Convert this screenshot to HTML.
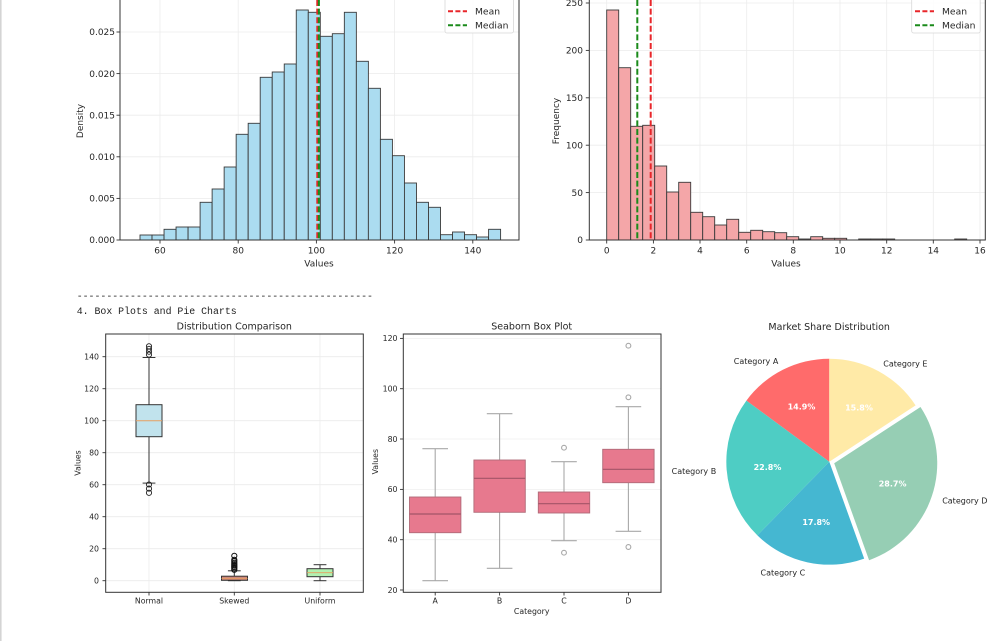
<!DOCTYPE html>
<html><head><meta charset="utf-8"><style>
html,body{margin:0;padding:0;background:#fff;}
svg{display:block;}
text{font-family:"DejaVu Sans","Liberation Sans",sans-serif;fill:#262626;}
text.pct{fill:#ffffff;font-weight:bold;}
.mono{font-family:"Liberation Mono","DejaVu Sans Mono",monospace;fill:#222;}
</style></head><body>
<svg width="1000" height="641" viewBox="0 0 1000 641" xmlns="http://www.w3.org/2000/svg">
<rect x="0" y="0" width="1000" height="641" fill="#fff"/>
<rect x="0" y="0" width="1.6" height="641" fill="#d4d4d4"/>

<!-- ============ TOP LEFT HISTOGRAM ============ -->
<g stroke="#ececec" stroke-width="0.8">
<line x1="160" y1="0" x2="160" y2="240"/><line x1="238.2" y1="0" x2="238.2" y2="240"/><line x1="316.4" y1="0" x2="316.4" y2="240"/><line x1="394.6" y1="0" x2="394.6" y2="240"/><line x1="472.8" y1="0" x2="472.8" y2="240"/>
<line x1="120" y1="198.4" x2="519" y2="198.4"/><line x1="120" y1="156.8" x2="519" y2="156.8"/><line x1="120" y1="115.2" x2="519" y2="115.2"/><line x1="120" y1="73.6" x2="519" y2="73.6"/><line x1="120" y1="32" x2="519" y2="32"/>
</g>
<g fill="#abdcf0" stroke="#3a3a3a" stroke-width="0.9">
<rect x="140" y="235" width="12.02" height="5"/>
<rect x="152.02" y="235" width="12.02" height="5"/>
<rect x="164.04" y="229.3" width="12.02" height="10.7"/>
<rect x="176.06" y="227" width="12.02" height="13"/>
<rect x="188.08" y="227" width="12.02" height="13"/>
<rect x="200.1" y="202.3" width="12.02" height="37.7"/>
<rect x="212.12" y="189" width="12.02" height="51"/>
<rect x="224.14" y="167" width="12.02" height="73"/>
<rect x="236.16" y="134.3" width="12.02" height="105.7"/>
<rect x="248.18" y="123.3" width="12.02" height="116.7"/>
<rect x="260.2" y="77.3" width="12.02" height="162.7"/>
<rect x="272.22" y="72" width="12.02" height="168"/>
<rect x="284.24" y="64" width="12.02" height="176"/>
<rect x="296.26" y="10" width="12.02" height="230"/>
<rect x="308.28" y="12.3" width="12.02" height="227.7"/>
<rect x="320.3" y="36.3" width="12.02" height="203.7"/>
<rect x="332.32" y="33.7" width="12.02" height="206.3"/>
<rect x="344.34" y="12.3" width="12.02" height="227.7"/>
<rect x="356.36" y="61.3" width="12.02" height="178.7"/>
<rect x="368.38" y="88.3" width="12.02" height="151.7"/>
<rect x="380.4" y="139.3" width="12.02" height="100.7"/>
<rect x="392.42" y="155.7" width="12.02" height="84.3"/>
<rect x="404.44" y="183" width="12.02" height="57"/>
<rect x="416.46" y="202.3" width="12.02" height="37.7"/>
<rect x="428.48" y="207.3" width="12.02" height="32.7"/>
<rect x="440.5" y="234.7" width="12.02" height="5.3"/>
<rect x="452.52" y="232" width="12.02" height="8"/>
<rect x="464.54" y="234.7" width="12.02" height="5.3"/>
<rect x="476.56" y="237" width="12.02" height="3"/>
<rect x="488.58" y="229.3" width="12.02" height="10.7"/>
</g>
<line x1="317.3" y1="0" x2="317.3" y2="240" stroke="#e8262a" stroke-width="2" stroke-dasharray="6,2.6"/>
<line x1="318.9" y1="0" x2="318.9" y2="240" stroke="#1a8a1a" stroke-width="2" stroke-dasharray="6,2.6"/>
<g stroke="#333" stroke-width="1" fill="none">
<line x1="120" y1="0" x2="120" y2="240.5"/><line x1="519" y1="0" x2="519" y2="240.5"/><line x1="120" y1="240" x2="519" y2="240"/>
</g>
<g stroke="#333" stroke-width="0.9">
<line x1="116.5" y1="240" x2="120" y2="240"/><line x1="116.5" y1="198.4" x2="120" y2="198.4"/><line x1="116.5" y1="156.8" x2="120" y2="156.8"/><line x1="116.5" y1="115.2" x2="120" y2="115.2"/><line x1="116.5" y1="73.6" x2="120" y2="73.6"/><line x1="116.5" y1="32" x2="120" y2="32"/>
<line x1="160" y1="240" x2="160" y2="243.5"/><line x1="238.2" y1="240" x2="238.2" y2="243.5"/><line x1="316.4" y1="240" x2="316.4" y2="243.5"/><line x1="394.6" y1="240" x2="394.6" y2="243.5"/><line x1="472.8" y1="240" x2="472.8" y2="243.5"/>
</g>
<g font-size="9" text-anchor="end">
<text x="115" y="243.2">0.000</text><text x="115" y="201.6">0.005</text><text x="115" y="160">0.010</text><text x="115" y="118.4">0.015</text><text x="115" y="76.8">0.020</text><text x="115" y="35.2">0.025</text>
</g>
<g font-size="9" text-anchor="middle">
<text x="160" y="253.5">60</text><text x="238.2" y="253.5">80</text><text x="316.4" y="253.5">100</text><text x="394.6" y="253.5">120</text><text x="472.8" y="253.5">140</text>
<text x="319" y="266.5">Values</text>
<text transform="translate(83,121) rotate(-90)">Density</text>
</g>
<rect x="445" y="-3" width="68.5" height="36" rx="2" fill="#fff" fill-opacity="0.85" stroke="#d8d8d8" stroke-width="0.8"/>
<line x1="448" y1="11.3" x2="467" y2="11.3" stroke="#e8262a" stroke-width="2" stroke-dasharray="5,2.4"/>
<line x1="448" y1="25.3" x2="467" y2="25.3" stroke="#1a8a1a" stroke-width="2" stroke-dasharray="5,2.4"/>
<text x="475" y="14.5" font-size="9.2">Mean</text>
<text x="475" y="28.5" font-size="9.2">Median</text>

<!-- ============ TOP RIGHT HISTOGRAM ============ -->
<g stroke="#ececec" stroke-width="0.8">
<line x1="606.7" y1="0" x2="606.7" y2="240"/><line x1="653.4" y1="0" x2="653.4" y2="240"/><line x1="700" y1="0" x2="700" y2="240"/><line x1="746.7" y1="0" x2="746.7" y2="240"/><line x1="793.3" y1="0" x2="793.3" y2="240"/><line x1="840" y1="0" x2="840" y2="240"/><line x1="886.7" y1="0" x2="886.7" y2="240"/><line x1="933.3" y1="0" x2="933.3" y2="240"/><line x1="980" y1="0" x2="980" y2="240"/>
<line x1="589.3" y1="192.6" x2="985.3" y2="192.6"/><line x1="589.3" y1="145.2" x2="985.3" y2="145.2"/><line x1="589.3" y1="97.8" x2="985.3" y2="97.8"/><line x1="589.3" y1="50.4" x2="985.3" y2="50.4"/><line x1="589.3" y1="3" x2="985.3" y2="3"/>
</g>
<g fill="#f4a6a8" stroke="#3a3a3a" stroke-width="0.9">
<rect x="606.7" y="10" width="12" height="230"/>
<rect x="618.7" y="67.7" width="12" height="172.3"/>
<rect x="630.7" y="126.3" width="12" height="113.7"/>
<rect x="642.7" y="125.3" width="12" height="114.7"/>
<rect x="654.7" y="166" width="12" height="74"/>
<rect x="666.7" y="192" width="12" height="48"/>
<rect x="678.7" y="182.3" width="12" height="57.7"/>
<rect x="690.7" y="212.3" width="12" height="27.7"/>
<rect x="702.7" y="216.7" width="12" height="23.3"/>
<rect x="714.7" y="225" width="12" height="15"/>
<rect x="726.7" y="219.3" width="12" height="20.7"/>
<rect x="738.7" y="232.3" width="12" height="7.7"/>
<rect x="750.7" y="230.3" width="12" height="9.7"/>
<rect x="762.7" y="231.7" width="12" height="8.3"/>
<rect x="774.7" y="232.7" width="12" height="7.3"/>
<rect x="786.7" y="236.7" width="12" height="3.3"/>
<rect x="798.7" y="239" width="12" height="1"/>
<rect x="810.7" y="236.7" width="12" height="3.3"/>
<rect x="822.7" y="238.3" width="12" height="1.7"/>
<rect x="834.7" y="238.3" width="12" height="1.7"/>
<rect x="858.7" y="239" width="12" height="1"/>
<rect x="870.7" y="239" width="12" height="1"/>
<rect x="882.7" y="239" width="12" height="1"/>
<rect x="954.7" y="239" width="12" height="1"/>
</g>
<line x1="650.7" y1="0" x2="650.7" y2="240" stroke="#e8262a" stroke-width="2" stroke-dasharray="6,2.6"/>
<line x1="637.3" y1="0" x2="637.3" y2="240" stroke="#1a8a1a" stroke-width="2" stroke-dasharray="6,2.6"/>
<g stroke="#333" stroke-width="1" fill="none">
<line x1="589.3" y1="0" x2="589.3" y2="240.5"/><line x1="985.3" y1="0" x2="985.3" y2="240.5"/><line x1="589.3" y1="240" x2="985.3" y2="240"/>
</g>
<g stroke="#333" stroke-width="0.9">
<line x1="585.8" y1="240" x2="589.3" y2="240"/><line x1="585.8" y1="192.6" x2="589.3" y2="192.6"/><line x1="585.8" y1="145.2" x2="589.3" y2="145.2"/><line x1="585.8" y1="97.8" x2="589.3" y2="97.8"/><line x1="585.8" y1="50.4" x2="589.3" y2="50.4"/><line x1="585.8" y1="3" x2="589.3" y2="3"/>
<line x1="606.7" y1="240" x2="606.7" y2="243.5"/><line x1="653.4" y1="240" x2="653.4" y2="243.5"/><line x1="700" y1="240" x2="700" y2="243.5"/><line x1="746.7" y1="240" x2="746.7" y2="243.5"/><line x1="793.3" y1="240" x2="793.3" y2="243.5"/><line x1="840" y1="240" x2="840" y2="243.5"/><line x1="886.7" y1="240" x2="886.7" y2="243.5"/><line x1="933.3" y1="240" x2="933.3" y2="243.5"/><line x1="980" y1="240" x2="980" y2="243.5"/>
</g>
<g font-size="9" text-anchor="end">
<text x="583" y="243.2">0</text><text x="583" y="195.8">50</text><text x="583" y="148.4">100</text><text x="583" y="101">150</text><text x="583" y="53.6">200</text><text x="583" y="6.2">250</text>
</g>
<g font-size="9" text-anchor="middle">
<text x="606.7" y="253.5">0</text><text x="653.4" y="253.5">2</text><text x="700" y="253.5">4</text><text x="746.7" y="253.5">6</text><text x="793.3" y="253.5">8</text><text x="840" y="253.5">10</text><text x="886.7" y="253.5">12</text><text x="933.3" y="253.5">14</text><text x="980" y="253.5">16</text>
<text x="786" y="266.5">Values</text>
<text transform="translate(559,121) rotate(-90)">Frequency</text>
</g>
<rect x="911.7" y="-3" width="68.5" height="36" rx="2" fill="#fff" fill-opacity="0.85" stroke="#d8d8d8" stroke-width="0.8"/>
<line x1="915" y1="11.3" x2="934" y2="11.3" stroke="#e8262a" stroke-width="2" stroke-dasharray="5,2.4"/>
<line x1="915" y1="25.3" x2="934" y2="25.3" stroke="#1a8a1a" stroke-width="2" stroke-dasharray="5,2.4"/>
<text x="942" y="14.5" font-size="9.2">Mean</text>
<text x="942" y="28.5" font-size="9.2">Median</text>

<!-- ============ separator text ============ -->
<text class="mono" x="76.7" y="299" font-size="9.9">--------------------------------------------------</text>
<text class="mono" x="76.7" y="314" font-size="9.9">4. Box Plots and Pie Charts</text>

<!-- ============ BOX PLOT 1 ============ -->
<text x="234.3" y="329.5" font-size="9.5" text-anchor="middle">Distribution Comparison</text>
<g stroke="#ececec" stroke-width="0.8">
<line x1="149" y1="334" x2="149" y2="592.3"/><line x1="234.3" y1="334" x2="234.3" y2="592.3"/><line x1="320" y1="334" x2="320" y2="592.3"/>
<line x1="105.7" y1="580.7" x2="363.3" y2="580.7"/><line x1="105.7" y1="548.7" x2="363.3" y2="548.7"/><line x1="105.7" y1="516.7" x2="363.3" y2="516.7"/><line x1="105.7" y1="484.7" x2="363.3" y2="484.7"/><line x1="105.7" y1="452.7" x2="363.3" y2="452.7"/><line x1="105.7" y1="420.7" x2="363.3" y2="420.7"/><line x1="105.7" y1="388.7" x2="363.3" y2="388.7"/><line x1="105.7" y1="356.7" x2="363.3" y2="356.7"/>
</g>
<!-- Normal -->
<g stroke="#333" stroke-width="1" fill="none">
<line x1="149" y1="404.7" x2="149" y2="357.5"/><line x1="149" y1="436.7" x2="149" y2="483.1"/>
<line x1="142.6" y1="357.5" x2="155.4" y2="357.5"/><line x1="142.6" y1="483.1" x2="155.4" y2="483.1"/>
</g>
<rect x="136" y="404.7" width="26" height="32" fill="#c1e3ed" stroke="#333" stroke-width="1"/>
<line x1="136" y1="420.7" x2="162" y2="420.7" stroke="#e8a060" stroke-width="1"/>
<g stroke="#222" stroke-width="0.9" fill="none">
<circle cx="149" cy="346.3" r="2.6"/><circle cx="149" cy="348.9" r="2.6"/><circle cx="149" cy="351.7" r="2.6"/><circle cx="149" cy="354.6" r="2.6"/>
<circle cx="149" cy="484.5" r="2.6"/><circle cx="149" cy="488.6" r="2.6"/><circle cx="149" cy="492.8" r="2.6"/>
</g>
<!-- Skewed -->
<g stroke="#333" stroke-width="1" fill="none">
<line x1="234.3" y1="576.4" x2="234.3" y2="570.8"/><line x1="227.9" y1="570.8" x2="240.7" y2="570.8"/>
<line x1="227.9" y1="580.7" x2="240.7" y2="580.7"/>
</g>
<rect x="221.5" y="576.2" width="26" height="4.1" fill="#cf8a7c" stroke="#333" stroke-width="1"/>
<line x1="221.5" y1="578.6" x2="247.5" y2="578.6" stroke="#e8a060" stroke-width="0.8"/>
<g stroke="#111" stroke-width="1" fill="none">
<circle cx="234.3" cy="569.8" r="2.6"/><circle cx="234.3" cy="568.4" r="2.6"/><circle cx="234.3" cy="567" r="2.6"/><circle cx="234.3" cy="565.6" r="2.6"/><circle cx="234.3" cy="564.2" r="2.6"/><circle cx="234.3" cy="562.8" r="2.6"/><circle cx="234.3" cy="561.2" r="2.6"/><circle cx="234.3" cy="559.8" r="2.6"/>
<circle cx="234.3" cy="555.8" r="2.6"/>
</g>
<!-- Uniform -->
<g stroke="#333" stroke-width="1" fill="none">
<line x1="320" y1="568.7" x2="320" y2="564.7"/><line x1="320" y1="576.7" x2="320" y2="580.7"/>
<line x1="313.6" y1="564.7" x2="326.4" y2="564.7"/><line x1="313.6" y1="580.7" x2="326.4" y2="580.7"/>
</g>
<rect x="307" y="568.7" width="26" height="8" fill="#b1f1b1" stroke="#333" stroke-width="1"/>
<line x1="307" y1="572.7" x2="333" y2="572.7" stroke="#e8a060" stroke-width="0.8"/>
<rect x="105.7" y="334" width="257.6" height="258.3" fill="none" stroke="#333" stroke-width="1"/>
<g stroke="#333" stroke-width="0.9">
<line x1="102.5" y1="580.7" x2="105.7" y2="580.7"/><line x1="102.5" y1="548.7" x2="105.7" y2="548.7"/><line x1="102.5" y1="516.7" x2="105.7" y2="516.7"/><line x1="102.5" y1="484.7" x2="105.7" y2="484.7"/><line x1="102.5" y1="452.7" x2="105.7" y2="452.7"/><line x1="102.5" y1="420.7" x2="105.7" y2="420.7"/><line x1="102.5" y1="388.7" x2="105.7" y2="388.7"/><line x1="102.5" y1="356.7" x2="105.7" y2="356.7"/>
<line x1="149" y1="592.3" x2="149" y2="595.5"/><line x1="234.3" y1="592.3" x2="234.3" y2="595.5"/><line x1="320" y1="592.3" x2="320" y2="595.5"/>
</g>
<g font-size="7.8" text-anchor="end">
<text x="99" y="583.5">0</text><text x="99" y="551.5">20</text><text x="99" y="519.5">40</text><text x="99" y="487.5">60</text><text x="99" y="455.5">80</text><text x="99" y="423.5">100</text><text x="99" y="391.5">120</text><text x="99" y="359.5">140</text>
</g>
<g font-size="7.8" text-anchor="middle">
<text x="149" y="603.3">Normal</text><text x="234.3" y="603.3">Skewed</text><text x="320" y="603.3">Uniform</text>
<text transform="translate(80.5,463) rotate(-90)">Values</text>
</g>

<!-- ============ SEABORN BOX PLOT ============ -->
<text x="531.7" y="329.5" font-size="9.5" text-anchor="middle">Seaborn Box Plot</text>
<g stroke="#efefef" stroke-width="0.8">
<line x1="403.3" y1="590" x2="661" y2="590"/><line x1="403.3" y1="539.7" x2="661" y2="539.7"/><line x1="403.3" y1="489.4" x2="661" y2="489.4"/><line x1="403.3" y1="439" x2="661" y2="439"/><line x1="403.3" y1="388.7" x2="661" y2="388.7"/><line x1="403.3" y1="338.4" x2="661" y2="338.4"/>
</g>
<g stroke="#a8a8a8" stroke-width="1.1" fill="none">
<line x1="435.2" y1="497" x2="435.2" y2="448.7"/><line x1="435.2" y1="532.7" x2="435.2" y2="580.7"/>
<line x1="422.4" y1="448.7" x2="448" y2="448.7"/><line x1="422.4" y1="580.7" x2="448" y2="580.7"/>
<line x1="499.6" y1="460" x2="499.6" y2="413.7"/><line x1="499.6" y1="512.3" x2="499.6" y2="568.3"/>
<line x1="486.8" y1="413.7" x2="512.4" y2="413.7"/><line x1="486.8" y1="568.3" x2="512.4" y2="568.3"/>
<line x1="564" y1="492" x2="564" y2="461.7"/><line x1="564" y1="513" x2="564" y2="540.7"/>
<line x1="551.2" y1="461.7" x2="576.8" y2="461.7"/><line x1="551.2" y1="540.7" x2="576.8" y2="540.7"/>
<line x1="628.4" y1="449.3" x2="628.4" y2="406.7"/><line x1="628.4" y1="482.7" x2="628.4" y2="531.3"/>
<line x1="615.6" y1="406.7" x2="641.2" y2="406.7"/><line x1="615.6" y1="531.3" x2="641.2" y2="531.3"/>
<circle cx="564" cy="447.7" r="2.4"/><circle cx="564" cy="552.7" r="2.4"/>
<circle cx="628.4" cy="345.7" r="2.4"/><circle cx="628.4" cy="397.3" r="2.4"/><circle cx="628.4" cy="547" r="2.4"/>
</g>
<g fill="#e7798e" stroke="#b06a78" stroke-width="0.9">
<rect x="409.5" y="497" width="51.4" height="35.7"/>
<rect x="473.9" y="460" width="51.4" height="52.3"/>
<rect x="538.3" y="492" width="51.4" height="21"/>
<rect x="602.7" y="449.3" width="51.4" height="33.4"/>
</g>
<g stroke="#a35467" stroke-width="1.2">
<line x1="409.5" y1="514" x2="460.9" y2="514"/>
<line x1="473.9" y1="478.3" x2="525.3" y2="478.3"/>
<line x1="538.3" y1="503.7" x2="589.7" y2="503.7"/>
<line x1="602.7" y1="469.3" x2="654.1" y2="469.3"/>
</g>
<rect x="403.3" y="334" width="257.7" height="258.3" fill="none" stroke="#333" stroke-width="1"/>
<g stroke="#333" stroke-width="0.9">
<line x1="400" y1="590" x2="403.3" y2="590"/><line x1="400" y1="539.7" x2="403.3" y2="539.7"/><line x1="400" y1="489.4" x2="403.3" y2="489.4"/><line x1="400" y1="439" x2="403.3" y2="439"/><line x1="400" y1="388.7" x2="403.3" y2="388.7"/><line x1="400" y1="338.4" x2="403.3" y2="338.4"/>
<line x1="435.2" y1="592.3" x2="435.2" y2="595.5"/><line x1="499.6" y1="592.3" x2="499.6" y2="595.5"/><line x1="564" y1="592.3" x2="564" y2="595.5"/><line x1="628.4" y1="592.3" x2="628.4" y2="595.5"/>
</g>
<g font-size="7.8" text-anchor="end">
<text x="397.5" y="592.8">20</text><text x="397.5" y="542.5">40</text><text x="397.5" y="492.2">60</text><text x="397.5" y="441.8">80</text><text x="397.5" y="391.5">100</text><text x="397.5" y="341.2">120</text>
</g>
<g font-size="7.8" text-anchor="middle">
<text x="435.2" y="603.5">A</text><text x="499.6" y="603.5">B</text><text x="564" y="603.5">C</text><text x="628.4" y="603.5">D</text>
<text x="531.7" y="614">Category</text>
<text transform="translate(378,461.7) rotate(-90)">Values</text>
</g>

<!-- ============ PIE ============ -->
<text x="829.2" y="330" font-size="9.5" text-anchor="middle">Market Share Distribution</text>
<path d="M829.3,461.7 L829.3,358.7 A103,103 0 0,0 746.4,400.6 Z" fill="#ff6b6b"/>
<path d="M829.3,461.7 L746.4,400.6 A103,103 0 0,0 757.4,535.4 Z" fill="#4ecdc4"/>
<path d="M829.3,461.7 L757.4,535.4 A103,103 0 0,0 864.2,558.6 Z" fill="#45b7d1"/>
<path d="M834.2,463.3 L869.1,560.2 A103,103 0 0,0 920.5,407.0 Z" fill="#96ceb4"/>
<path d="M829.3,461.7 L915.6,405.4 A103,103 0 0,0 829.3,358.7 Z" fill="#ffeaa7"/>
<g font-size="8" text-anchor="middle">
<text class="pct" x="801.5" y="409.5">14.9%</text>
<text class="pct" x="767.5" y="469.8">22.8%</text>
<text class="pct" x="816.2" y="525.2">17.8%</text>
<text class="pct" x="892.6" y="486.5">28.7%</text>
<text class="pct" x="859" y="410.5">15.8%</text>
</g>
<g font-size="8">
<text x="778.3" y="364" text-anchor="end">Category A</text>
<text x="716.2" y="474" text-anchor="end">Category B</text>
<text x="805.2" y="575.7" text-anchor="end">Category C</text>
<text x="942.2" y="503.3">Category D</text>
<text x="883.3" y="366.3">Category E</text>
</g>
</svg>
</body></html>
